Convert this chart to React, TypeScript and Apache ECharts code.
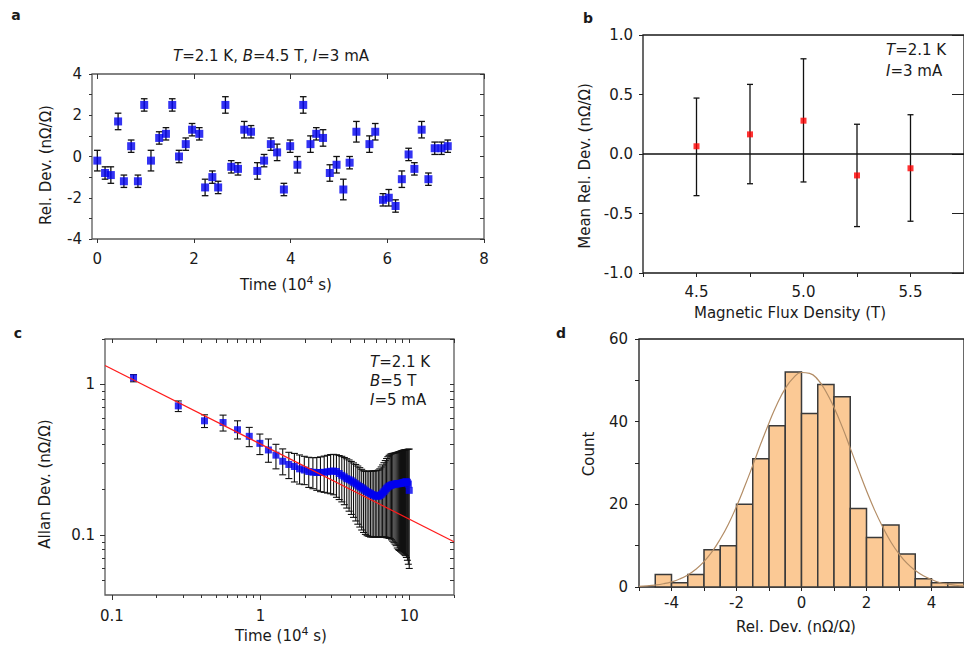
import React, { useEffect, useRef } from 'react';
import * as echarts from 'echarts';

const FONT = 'DejaVu Sans';
const TXT = '#1a1a1a';

// ---------- Panel a : relative deviation vs time ----------
const aTime = [0.00, 0.16, 0.28, 0.43, 0.55, 0.70, 0.84, 0.97, 1.11, 1.28, 1.42, 1.55, 1.69, 1.83, 1.96, 2.11, 2.23, 2.38, 2.50, 2.65, 2.77, 2.91, 3.04, 3.18, 3.31, 3.45, 3.59, 3.72, 3.86, 3.99, 4.14, 4.26, 4.41, 4.53, 4.67, 4.81, 4.95, 5.09, 5.22, 5.36, 5.63, 5.75, 5.91, 6.03, 6.17, 6.30, 6.44, 6.56, 6.71, 6.85, 6.98, 7.12, 7.25];
const aDev = [-0.2, -0.8, -0.9, 1.7, -1.2, 0.5, -1.2, 2.5, -0.2, 0.9, 1.1, 2.5, 0.0, 0.6, 1.3, 1.1, -1.5, -1.0, -1.5, 2.5, -0.5, -0.6, 1.3, 1.2, -0.7, -0.2, 0.6, 0.2, -1.6, 0.5, -0.4, 2.5, 0.6, 1.1, 0.9, -0.8, -0.4, -1.6, -0.3, 1.2, 0.6, 1.2, -2.1, -2.0, -2.4, -1.1, 0.1, -0.6, 1.3, -1.1, 0.4, 0.4, 0.5];
const aErr = [0.5, 0.3, 0.4, 0.4, 0.3, 0.3, 0.3, 0.3, 0.5, 0.3, 0.3, 0.3, 0.3, 0.3, 0.3, 0.3, 0.4, 0.3, 0.3, 0.4, 0.3, 0.3, 0.4, 0.3, 0.4, 0.3, 0.3, 0.4, 0.3, 0.3, 0.4, 0.4, 0.4, 0.3, 0.4, 0.4, 0.4, 0.5, 0.3, 0.5, 0.4, 0.4, 0.3, 0.4, 0.3, 0.4, 0.3, 0.3, 0.4, 0.3, 0.3, 0.3, 0.3];
const aXLabels = [0, 2, 4, 6, 8];
const aYLabels = [-4, -2, 0, 2, 4];

// ---------- Panel b : mean deviation vs field ----------
const bField = [4.5, 4.75, 5.0, 5.25, 5.5];
const bMean = [0.065, 0.165, 0.28, -0.18, -0.12];
const bLow = [-0.35, -0.25, -0.235, -0.61, -0.565];
const bHigh = [0.47, 0.585, 0.80, 0.25, 0.33];
const bXLabels = [4.5, 5.0, 5.5];

// ---------- Panel c : Allan deviation ----------
const cTime = [0.14, 0.28, 0.42, 0.56, 0.70, 0.84, 0.99, 1.13, 1.27, 1.41, 1.55, 1.69, 1.83, 1.97, 2.11, 2.25, 2.39, 2.53, 2.68, 2.82, 2.96, 3.10, 3.24, 3.38, 3.52, 3.66, 3.80, 3.94, 4.08, 4.22, 4.37, 4.51, 4.65, 4.79, 4.93, 5.07, 5.21, 5.35, 5.49, 5.63, 5.77, 5.91, 6.05, 6.20, 6.34, 6.48, 6.62, 6.76, 6.90, 7.04, 7.18, 7.32, 7.46, 7.60, 7.74, 7.89, 8.03, 8.17, 8.31, 8.45, 8.59, 8.73, 8.87, 9.01, 9.15, 9.29, 9.43, 9.57, 9.72, 9.86, 10.0];
const cAllan = [1.105, 0.72, 0.573, 0.558, 0.50, 0.452, 0.406, 0.367, 0.339, 0.309, 0.294, 0.285, 0.275, 0.270, 0.264, 0.261, 0.260, 0.260, 0.261, 0.263, 0.265, 0.266, 0.264, 0.256, 0.249, 0.243, 0.237, 0.233, 0.229, 0.224, 0.219, 0.214, 0.210, 0.206, 0.202, 0.198, 0.194, 0.191, 0.189, 0.186, 0.184, 0.182, 0.181, 0.181, 0.183, 0.186, 0.190, 0.194, 0.199, 0.204, 0.208, 0.211, 0.213, 0.215, 0.216, 0.217, 0.218, 0.218, 0.219, 0.219, 0.220, 0.220, 0.221, 0.222, 0.223, 0.224, 0.225, 0.226, 0.224, 0.218, 0.198];
const cLow = [1.04, 0.66, 0.517, 0.49, 0.434, 0.386, 0.342, 0.304, 0.275, 0.251, 0.237, 0.225, 0.218, 0.216, 0.207, 0.203, 0.198, 0.194, 0.192, 0.190, 0.188, 0.185, 0.178, 0.172, 0.166, 0.159, 0.151, 0.144, 0.137, 0.131, 0.124, 0.118, 0.113, 0.108, 0.104, 0.101, 0.099, 0.098, 0.097, 0.097, 0.097, 0.097, 0.097, 0.097, 0.097, 0.097, 0.097, 0.097, 0.097, 0.096, 0.096, 0.095, 0.095, 0.093, 0.091, 0.089, 0.087, 0.085, 0.082, 0.080, 0.079, 0.078, 0.077, 0.076, 0.075, 0.074, 0.073, 0.071, 0.068, 0.064, 0.060];
const cHigh = [1.16, 0.776, 0.628, 0.625, 0.573, 0.518, 0.468, 0.434, 0.40, 0.373, 0.354, 0.348, 0.34, 0.333, 0.328, 0.326, 0.327, 0.330, 0.334, 0.338, 0.342, 0.343, 0.341, 0.337, 0.333, 0.327, 0.321, 0.315, 0.308, 0.301, 0.294, 0.287, 0.280, 0.273, 0.267, 0.265, 0.264, 0.265, 0.266, 0.266, 0.266, 0.267, 0.268, 0.270, 0.275, 0.283, 0.292, 0.302, 0.312, 0.322, 0.331, 0.338, 0.344, 0.346, 0.348, 0.349, 0.351, 0.352, 0.354, 0.356, 0.358, 0.360, 0.362, 0.364, 0.366, 0.367, 0.368, 0.369, 0.370, 0.371, 0.372];
const cFitTime = [0.09, 20];
const cFitDev = [1.334, 0.0903];
const cXMajor = [0.1, 1, 10];
const cXMinor = [0.2, 0.3, 0.4, 0.5, 0.6, 0.7, 0.8, 0.9, 2, 3, 4, 5, 6, 7, 8, 9, 20];
const cYMajor = [0.1, 1];
const cYMinor = [0.05, 0.06, 0.07, 0.08, 0.09, 0.2, 0.3, 0.4, 0.5, 0.6, 0.7, 0.8, 0.9, 2];

// ---------- Panel d : histogram ----------
const dBinLeft = [-4.5, -4.0, -3.5, -3.0, -2.5, -2.0, -1.5, -1.0, -0.5, 0.0, 0.5, 1.0, 1.5, 2.0, 2.5, 3.0, 3.5, 4.0, 4.5];
const dCount = [3, 1, 3, 9, 10, 20, 31, 39, 52, 42, 49, 46, 19, 12, 15, 8, 2, 1, 1];
const dBinWidth = 0.5;
const dFitX = [-5, -4.75, -4.5, -4.25, -4, -3.75, -3.5, -3.25, -3, -2.75, -2.5, -2.25, -2, -1.75, -1.5, -1.25, -1, -0.75, -0.5, -0.25, 0, 0.25, 0.5, 0.75, 1, 1.25, 1.5, 1.75, 2, 2.25, 2.5, 2.75, 3, 3.25, 3.5, 3.75, 4, 4.25, 4.5, 4.75, 5];
const dFitY = [0.16, 0.28, 0.47, 0.78, 1.24, 1.93, 2.92, 4.29, 6.14, 8.55, 11.6, 15.2, 19.5, 24.3, 29.4, 34.7, 39.7, 44.3, 48.0, 50.6, 51.9, 51.7, 50.2, 47.3, 43.4, 38.8, 33.6, 28.4, 23.3, 18.6, 14.5, 10.9, 8.0, 5.7, 4.0, 2.7, 1.8, 1.1, 0.7, 0.43, 0.25];
const dXLabels = [-4, -2, 0, 2, 4];
const dYLabels = [0, 20, 40, 60];

const FS = 15;
const labelStyle = { fontFamily: FONT, fontSize: FS, color: TXT };
const noLine = { show: false, onZero: false };
const hidden = { show: false };

function errRender(cap: number, color: string, lw: number) {
  return (params: any, api: any) => {
    const x = api.value(0);
    const lo = api.value(1);
    const hi = api.value(2);
    const p = api.coord([x, lo]);
    const q = api.coord([x, hi]);
    const st = { stroke: color, lineWidth: lw };
    return {
      type: 'group',
      children: [
        { type: 'line', shape: { x1: p[0], y1: p[1], x2: q[0], y2: q[1] }, style: st },
        { type: 'line', shape: { x1: p[0] - cap, y1: p[1], x2: p[0] + cap, y2: p[1] }, style: st },
        { type: 'line', shape: { x1: q[0] - cap, y1: q[1], x2: q[0] + cap, y2: q[1] }, style: st },
      ],
    };
  };
}

function txt(x: number, y: number, text: string, opts: any = {}) {
  const fs = opts.fontSize || FS;
  return {
    type: 'text',
    x,
    y,
    rotation: opts.rotation || 0,
    style: {
      text,
      fontFamily: FONT,
      fontSize: fs,
      fontWeight: opts.bold ? 'bold' : 'normal',
      fill: TXT,
      align: opts.align || 'center',
      verticalAlign: 'middle',
      rich: {
        i: { fontFamily: FONT, fontSize: fs, fontStyle: 'italic', fill: TXT },
        sup: { fontFamily: FONT, fontSize: 11, fill: TXT, padding: [0, 0, 9, 0] },
      },
    },
  };
}

export default function App() {
  const ref = useRef<HTMLDivElement>(null);
  useEffect(() => {
    if (!ref.current) return;
    const chart = echarts.init(ref.current, undefined, { renderer: 'svg' });

    const option: any = {
      animation: false,
      backgroundColor: '#ffffff',
      grid: [
        { left: 92, top: 74, width: 392, height: 165, show: true, borderColor: '#5a5a5a', borderWidth: 1.3, backgroundColor: 'transparent' },
        { left: 643, top: 35, width: 324, height: 238, show: true, borderColor: '#1a1a1a', borderWidth: 1.3, backgroundColor: 'transparent' },
        { left: 105, top: 339, width: 349, height: 256, show: true, borderColor: '#5a5a5a', borderWidth: 1.3, backgroundColor: 'transparent' },
        { left: 639, top: 339, width: 333, height: 248, show: true, borderColor: '#1a1a1a', borderWidth: 1.3, backgroundColor: 'transparent' },
      ],
      xAxis: [
        // 0: a bottom
        {
          gridIndex: 0, type: 'value', min: -0.11, max: 8, position: 'bottom',
          axisLine: noLine, splitLine: hidden,
          axisTick: { customValues: aXLabels, length: 4, lineStyle: { color: '#333' } },
          axisLabel: { ...labelStyle, customValues: aXLabels, margin: 12 },
        },
        // 1: a top
        {
          gridIndex: 0, type: 'value', min: -0.11, max: 8, position: 'top',
          axisLine: noLine, splitLine: hidden,
          axisTick: { customValues: aXLabels, length: 5, inside: true, lineStyle: { color: '#333' } },
          axisLabel: hidden,
        },
        // 2: b bottom
        {
          gridIndex: 1, type: 'value', min: 4.25, max: 5.75, interval: 0.25, position: 'bottom',
          axisLine: noLine, splitLine: hidden,
          axisTick: { length: 4, lineStyle: { color: '#222' } },
          axisLabel: { ...labelStyle, customValues: bXLabels, margin: 11, formatter: (v: number) => v.toFixed(1) },
        },
        // 3: c bottom major
        {
          gridIndex: 2, type: 'log', logBase: 10, min: 0.09, max: 20, position: 'bottom',
          axisLine: noLine, splitLine: hidden,
          axisTick: { customValues: cXMajor, length: 5, lineStyle: { color: '#333' } },
          axisLabel: { ...labelStyle, customValues: cXMajor, margin: 13 },
        },
        // 4: c bottom minor
        {
          gridIndex: 2, type: 'log', logBase: 10, min: 0.09, max: 20, position: 'bottom',
          axisLine: noLine, splitLine: hidden,
          axisTick: { customValues: cXMinor, length: 3, lineStyle: { color: '#333' } },
          axisLabel: hidden,
        },
        // 5: c top
        {
          gridIndex: 2, type: 'log', logBase: 10, min: 0.09, max: 20, position: 'top',
          axisLine: noLine, splitLine: hidden,
          axisTick: { customValues: cXMajor.concat(cXMinor), length: 4, inside: true, lineStyle: { color: '#333' } },
          axisLabel: hidden,
        },
        // 6: d bottom
        {
          gridIndex: 3, type: 'value', min: -5, max: 5, interval: 1, position: 'bottom',
          axisLine: noLine, splitLine: hidden,
          axisTick: { length: 4, lineStyle: { color: '#222' } },
          axisLabel: { ...labelStyle, customValues: dXLabels, margin: 8 },
        },
      ],
      yAxis: [
        // 0: a left
        {
          gridIndex: 0, type: 'value', min: -4, max: 4, interval: 1, position: 'left',
          axisLine: noLine, splitLine: hidden,
          axisTick: { length: 3, lineStyle: { color: '#333' } },
          axisLabel: { ...labelStyle, customValues: aYLabels, margin: 10 },
        },
        // 1: a right
        {
          gridIndex: 0, type: 'value', min: -4, max: 4, interval: 1, position: 'right',
          axisLine: noLine, splitLine: hidden,
          axisTick: { length: 4, inside: true, lineStyle: { color: '#333' } },
          axisLabel: hidden,
        },
        // 2: b left
        {
          gridIndex: 1, type: 'value', min: -1, max: 1, interval: 0.5, position: 'left',
          axisLine: noLine, splitLine: hidden,
          axisTick: { length: 4, lineStyle: { color: '#222' } },
          axisLabel: { ...labelStyle, margin: 10, formatter: (v: number) => v.toFixed(1) },
        },
        // 3: b right
        {
          gridIndex: 1, type: 'value', min: -1, max: 1, interval: 0.5, position: 'right',
          axisLine: noLine, splitLine: hidden,
          axisTick: { length: 12, inside: true, lineStyle: { color: '#222' } },
          axisLabel: hidden,
        },
        // 4: c left major
        {
          gridIndex: 2, type: 'log', logBase: 10, min: 0.04, max: 2, position: 'left',
          axisLine: noLine, splitLine: hidden,
          axisTick: { customValues: cYMajor, length: 5, lineStyle: { color: '#333' } },
          axisLabel: { ...labelStyle, customValues: cYMajor, margin: 10 },
        },
        // 5: c left minor
        {
          gridIndex: 2, type: 'log', logBase: 10, min: 0.04, max: 2, position: 'left',
          axisLine: noLine, splitLine: hidden,
          axisTick: { customValues: cYMinor, length: 3, lineStyle: { color: '#333' } },
          axisLabel: hidden,
        },
        // 6: c right
        {
          gridIndex: 2, type: 'log', logBase: 10, min: 0.04, max: 2, position: 'right',
          axisLine: noLine, splitLine: hidden,
          axisTick: { customValues: cYMajor.concat(cYMinor), length: 4, inside: true, lineStyle: { color: '#333' } },
          axisLabel: hidden,
        },
        // 7: d left
        {
          gridIndex: 3, type: 'value', min: 0, max: 60, interval: 10, position: 'left',
          axisLine: noLine, splitLine: hidden,
          axisTick: { length: 4, lineStyle: { color: '#222' } },
          axisLabel: { ...labelStyle, customValues: dYLabels, margin: 11 },
        },
      ],
      series: [
        // panel a
        {
          type: 'custom', xAxisIndex: 0, yAxisIndex: 0,
          renderItem: errRender(3.3, '#111', 1.3),
          encode: { x: 0, y: [1, 2] },
          data: aTime.map((t, i) => [t, aDev[i] - aErr[i], aDev[i] + aErr[i]]),
          z: 2,
        },
        {
          type: 'scatter', xAxisIndex: 0, yAxisIndex: 0, symbol: 'rect', symbolSize: 8,
          itemStyle: { color: '#0000f0' },
          data: aTime.map((t, i) => [t, aDev[i]]),
          z: 3,
        },
        // panel b
        {
          type: 'line', xAxisIndex: 2, yAxisIndex: 2, symbol: 'none',
          lineStyle: { color: '#111', width: 1.3 },
          data: [[4.25, 0], [5.75, 0]],
          z: 1,
        },
        {
          type: 'custom', xAxisIndex: 2, yAxisIndex: 2,
          renderItem: errRender(3, '#111', 1.3),
          encode: { x: 0, y: [1, 2] },
          data: bField.map((f, i) => [f, bLow[i], bHigh[i]]),
          z: 2,
        },
        {
          type: 'scatter', xAxisIndex: 2, yAxisIndex: 2, symbol: 'rect', symbolSize: 6,
          itemStyle: { color: '#ff0000' },
          data: bField.map((f, i) => [f, bMean[i]]),
          z: 3,
        },
        // panel c
        {
          type: 'custom', xAxisIndex: 3, yAxisIndex: 4,
          renderItem: errRender(3.5, '#111', 1.1),
          encode: { x: 0, y: [1, 2] },
          data: cTime.map((t, i) => [t, cLow[i], cHigh[i]]),
          z: 2,
        },
        {
          type: 'scatter', xAxisIndex: 3, yAxisIndex: 4, symbol: 'rect', symbolSize: 7,
          itemStyle: { color: '#0000f0' },
          data: cTime.map((t, i) => [t, cAllan[i]]),
          z: 3,
        },
        {
          type: 'line', xAxisIndex: 3, yAxisIndex: 4, symbol: 'none',
          lineStyle: { color: '#ff1a1a', width: 1.2 },
          data: cFitTime.map((t, i) => [t, cFitDev[i]]),
          z: 4,
        },
        // panel d
        {
          type: 'custom', xAxisIndex: 6, yAxisIndex: 7,
          renderItem: (params: any, api: any) => {
            const x0 = api.value(0);
            const x1 = api.value(1);
            const c = api.value(2);
            const p0 = api.coord([x0, c]);
            const p1 = api.coord([x1, 0]);
            return {
              type: 'rect',
              shape: { x: p0[0], y: p0[1], width: p1[0] - p0[0], height: p1[1] - p0[1] },
              style: { fill: '#fbc995', stroke: '#3a3a3a', lineWidth: 1.5 },
            };
          },
          encode: { x: [0, 1], y: 2 },
          data: dBinLeft.map((l, i) => [l, l + dBinWidth, dCount[i]]),
          z: 2,
        },
        {
          type: 'line', xAxisIndex: 6, yAxisIndex: 7, symbol: 'none', smooth: true,
          lineStyle: { color: '#b38d66', width: 1.2 },
          data: dFitX.map((x, i) => [x, dFitY[i]]),
          z: 3,
        },
      ],
      graphic: [
        txt(16, 15, 'a', { bold: true, fontSize: 14 }),
        txt(588, 18, 'b', { bold: true, fontSize: 14 }),
        txt(18, 333, 'c', { bold: true, fontSize: 14 }),
        txt(561, 333, 'd', { bold: true, fontSize: 14 }),
        txt(271, 56, '{i|T}=2.1 K, {i|B}=4.5 T, {i|I}=3 mA'),
        txt(46, 165, 'Rel. Dev. (nΩ/Ω)', { rotation: Math.PI / 2 }),
        txt(286, 285, 'Time (10{sup|4} s)'),
        txt(585, 166, 'Mean Rel. Dev. (nΩ/Ω)', { rotation: Math.PI / 2 }),
        txt(790, 313, 'Magnetic Flux Density (T)'),
        txt(886, 50, '{i|T}=2.1 K', { align: 'left' }),
        txt(886, 71, '{i|I}=3 mA', { align: 'left' }),
        txt(45, 484, 'Allan Dev. (nΩ/Ω)', { rotation: Math.PI / 2 }),
        txt(281, 636, 'Time (10{sup|4} s)'),
        txt(370, 362, '{i|T}=2.1 K', { align: 'left' }),
        txt(370, 381, '{i|B}=5 T', { align: 'left' }),
        txt(370, 400, '{i|I}=5 mA', { align: 'left' }),
        txt(589, 454, 'Count', { rotation: Math.PI / 2 }),
        txt(796, 627, 'Rel. Dev. (nΩ/Ω)'),
      ],
    };
    chart.setOption(option);
    return () => chart.dispose();
  }, []);
  return (
    <div
      ref={ref}
      style={{ position: 'absolute', left: 0, top: 0, width: 964, height: 647, background: '#fff' }}
    />
  );
}
